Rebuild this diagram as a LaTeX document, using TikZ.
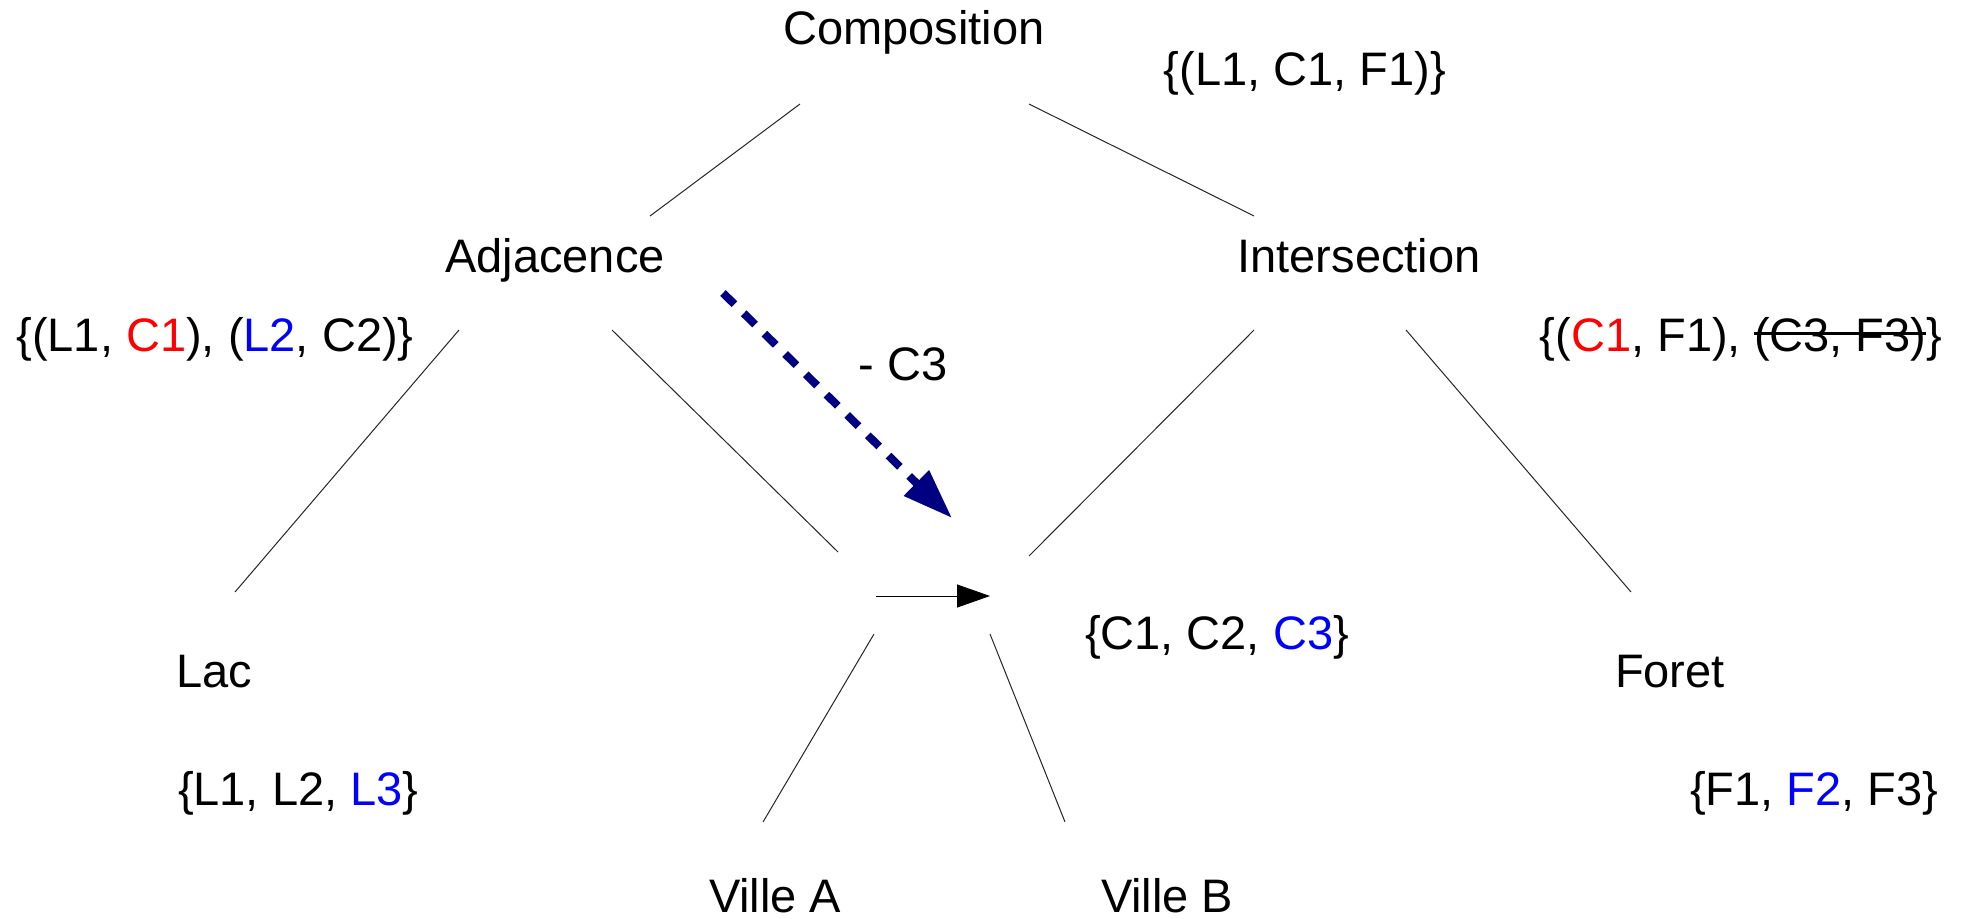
\documentclass[tikz,border=0pt]{standalone}
\usepackage{fontspec}
\setmainfont{Liberation Sans}
\usetikzlibrary{arrows.meta}
\definecolor{myred}{RGB}{255,0,0}
\definecolor{myblue}{RGB}{0,0,255}
\definecolor{mynavy}{RGB}{0,0,128}
\newcommand\mystrike[1]{\setbox0=\hbox{#1}\rlap{\rule[0.34em]{\wd0}{0.055em}}\box0}
\begin{document}
\begin{tikzpicture}[x=1pt,y=-1pt,
  lbl/.style={inner sep=0pt,outer sep=0pt,font=\fontsize{47}{56}\selectfont},
  edge/.style={draw=black!85,line width=1pt},
  dasharrow/.style={draw=mynavy,line width=8pt,dash pattern=on 16pt off 13pt,
     -{Triangle[length=50pt,width=34pt]}},
  smallarrow/.style={draw=black,line width=1pt,-{Triangle[length=33pt,width=23pt]}}]
\useasboundingbox[fill=white] (0,0) rectangle (1967,918);
% labels
\node[lbl,anchor=base] (comp) at (914,44) {Composition};
\node[lbl,anchor=base] (compset) at (1305,85) {\{(L1, C1, F1)\}};
\node[lbl,anchor=base] (adj) at (555,272) {Adjacence};
\node[lbl,anchor=base] (inter) at (1359,272) {Intersection};
\node[lbl,anchor=base] (adjset) at (215,351) {\{(L1, \textcolor{myred}{C1}), (\textcolor{myblue}{L2}, C2)\}};
\node[lbl,anchor=base] (interset) at (1741,351) {\{(\textcolor{myred}{C1}, F1), \mystrike{(C3, F3)}\}};
\node[lbl,anchor=base] (minus) at (903,380) {- C3};
\node[lbl,anchor=base] (centerset) at (1217,649) {\{C1, C2, \textcolor{myblue}{C3}\}};
\node[lbl,anchor=base west] (lac) at (176,687) {Lac};
\node[lbl,anchor=base west] (foret) at (1615,687) {Foret};
\node[lbl,anchor=base west] (lacset) at (178,805) {\{L1, L2, \textcolor{myblue}{L3}\}};
\node[lbl,anchor=base west] (foretset) at (1690,805) {\{F1, \textcolor{myblue}{F2}, F3\}};
\node[lbl,anchor=base west] (villea) at (709,912) {Ville A};
\node[lbl,anchor=base west] (villeb) at (1101,912) {Ville B};
% connector end points
\coordinate (ca1) at (800,104); \coordinate (ca2) at (650,216);
\coordinate (ci1) at (1029,104); \coordinate (ci2) at (1254,216);
\coordinate (al1) at (459,330); \coordinate (al2) at (235,592);
\coordinate (ac1) at (612,330); \coordinate (ac2) at (838,552);
\coordinate (ic1) at (1254,330); \coordinate (ic2) at (1029,556);
\coordinate (if1) at (1406,330); \coordinate (if2) at (1631,592);
\coordinate (va1) at (874,634); \coordinate (va2) at (763,822);
\coordinate (vb1) at (990,634); \coordinate (vb2) at (1065,822);
\coordinate (sa1) at (876,596); \coordinate (sa2) at (990,596);
\coordinate (da1) at (723,293); \coordinate (da2) at (952,518);
% connectors
\draw[edge] (ca1) -- (ca2);
\draw[edge] (ci1) -- (ci2);
\draw[edge] (al1) -- (al2);
\draw[edge] (ac1) -- (ac2);
\draw[edge] (ic1) -- (ic2);
\draw[edge] (if1) -- (if2);
\draw[edge] (va1) -- (va2);
\draw[edge] (vb1) -- (vb2);
\draw[smallarrow] (sa1) -- (sa2);
\draw[dasharrow] (da1) -- (da2);
\end{tikzpicture}
\end{document}
